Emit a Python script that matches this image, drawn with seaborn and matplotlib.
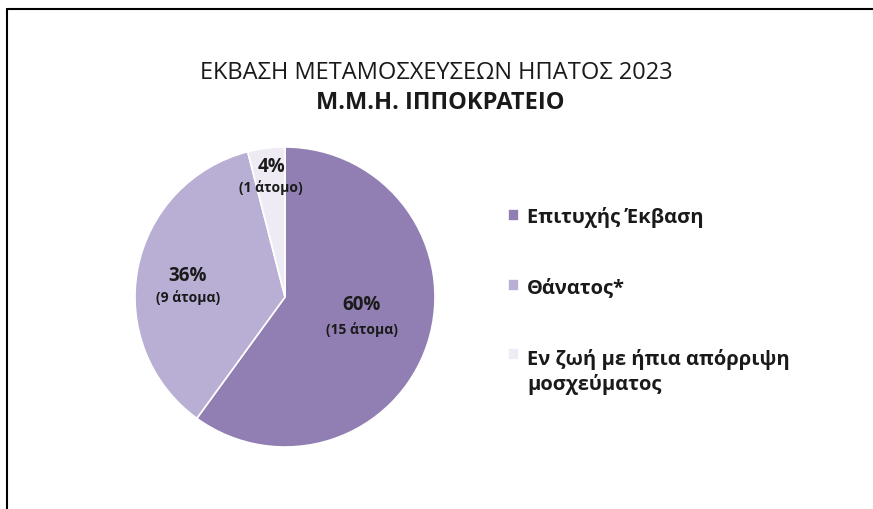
import matplotlib
matplotlib.use("Agg")
import matplotlib.pyplot as plt
import seaborn as sns
from matplotlib.lines import Line2D

sns.set_theme(style="white")
plt.rcParams['font.family'] = ['Open Sans', 'DejaVu Sans']

categories = ["Επιτυχής Έκβαση", "Θάνατος*", "Εν ζωή με ήπια απόρριψη\nμοσχεύματος"]
counts = [15, 9, 1]
percents = ["60%", "36%", "4%"]
people = ["(15 άτομα)", "(9 άτομα)", "(1 άτομο)"]
colors = ["#917fb3", "#b9aed3", "#eeebf4"]
title_line1 = "ΕΚΒΑΣΗ ΜΕΤΑΜΟΣΧΕΥΣΕΩΝ ΗΠΑΤΟΣ 2023"
title_line2 = "Μ.Μ.Η. ΙΠΠΟΚΡΑΤΕΙΟ"

W, H = 873, 510
fig = plt.figure(figsize=(W / 100, H / 100), dpi=100)
fig.patch.set_facecolor("white")

# border (top + left)
fig.add_artist(Line2D([7 / W, 7 / W], [0, 1 - 10 / H], color="black", lw=1.5, transform=fig.transFigure))
fig.add_artist(Line2D([7 / W, 1], [1 - 10 / H, 1 - 10 / H], color="black", lw=1.5, transform=fig.transFigure))

cx, cy, r = 285, 298, 150
ax = fig.add_axes([(cx - r) / W, (H - cy - r) / H, 2 * r / W, 2 * r / H])
wedges, _ = ax.pie(counts, colors=colors, startangle=90, counterclock=False,
                   wedgeprops=dict(edgecolor="white", linewidth=1.2), radius=1)
ax.set_xlim(-1, 1)
ax.set_ylim(-1, 1)
ax.set_aspect("equal")
ax.axis("off")

# label positions (pixels: pct line centre, people line centre)
pct_px = [(362, 305), (188, 276), (271, 167)]
sub_px = [(362, 330), (188, 298), (271, 188)]
for (px, py), (sx, sy), p, n in zip(pct_px, sub_px, percents, people):
    ax.text((px - cx) / r, (cy - py) / r, p, ha="center", va="center",
            fontsize=13.5, fontweight="bold", color="#1a1a1a")
    ax.text((sx - cx) / r, (cy - sy) / r, n, ha="center", va="center",
            fontsize=10, fontweight="bold", color="#1a1a1a")

fig.text(436 / W, 1 - 73 / H, title_line1, ha="center", va="center", fontsize=17, color="#1a1a1a")
fig.text(440 / W, 1 - 103 / H, title_line2, ha="center", va="center", fontsize=17, fontweight="bold", color="#1a1a1a")

leg = fig.legend(wedges, categories, loc="upper left", bbox_to_anchor=(490 / W, 1 - 189 / H),
                 frameon=False, handlelength=0.55, handleheight=0.55, handletextpad=0.4,
                 labelspacing=2.5, prop=dict(size=14.5, weight="bold"))
for t in leg.get_texts():
    t.set_color("#1a1a1a")
    t.set_linespacing(1.25)
# align square with the first text line of the wrapped entry
for col in leg._legend_handle_box.get_children():
    for entry, lbl in zip(col.get_children(), categories):
        if "\n" in lbl:
            entry.align = "top"

fig.savefig("out.png", dpi=100, facecolor="white")
